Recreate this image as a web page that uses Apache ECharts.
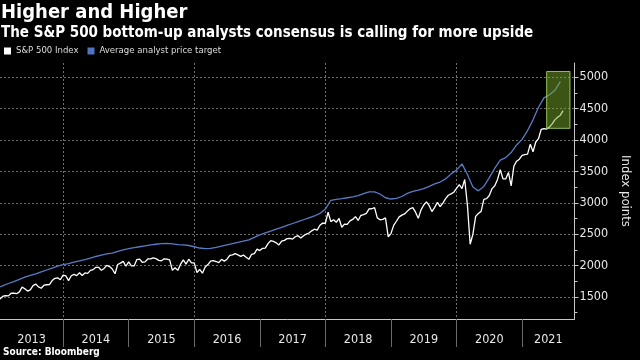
<!DOCTYPE html>
<html><head><meta charset="utf-8">
<script src="https://cdn.jsdelivr.net/npm/echarts@6/dist/echarts.min.js"></script>
<style>html,body{margin:0;padding:0;background:#000}#c{width:640px;height:360px}</style>
</head><body><div id="c"></div>
<script>
const F = 'DejaVu Sans Condensed';
const years = [2013, 2014, 2015, 2016, 2017, 2018, 2019, 2020, 2021];
const axisStart = 2013.038, axisEnd = 2021.799;
const boundaryYears = [2014, 2015, 2016, 2017, 2018, 2019, 2020, 2021];
const gridYears = [2014, 2016, 2018, 2020];
const yTicks = [1500, 2000, 2500, 3000, 3500, 4000, 4500, 5000];
const yMinorTicks = [1250, 1750, 2250, 2750, 3250, 3750, 4250, 4750];

// S&P 500 Index, twice a month (1st, 15th) from Jan 2013
const spx2013 = [1480,1472, 1513,1520, 1518,1560, 1562,1553, 1582,1658, 1631,1595, 1614,1682, 1706,1661, 1640,1688, 1695,1698, 1762,1798, 1806,1775];
const spx2014 = [1848,1838, 1760,1838, 1859,1841, 1885,1842, 1883,1877, 1924,1936, 1973,1973, 1925,1955, 2003,1985, 1946,1870, 2018,2039, 2067,1990];
const spx2015 = [2058,1995, 1995,2096, 2104,2053, 2059,2106, 2108,2122, 2111,2084, 2077,2108, 2104,2090, 1925,1965, 1924,2023, 2090,2023, 2102,2043];
const spx2016 = [2044,1890, 1940,1880, 1978,2016, 2072,2080, 2065,2046, 2100,2071, 2102,2161, 2170,2190, 2170,2147, 2168,2132, 2100,2180, 2191,2262];
const spx2017 = [2239,2275, 2279,2349, 2396,2385, 2363,2329, 2388,2402, 2430,2433, 2423,2459, 2476,2440, 2476,2500, 2519,2553, 2579,2565, 2642,2676];
const spx2018 = [2674,2850, 2700,2730, 2690,2750, 2610,2660, 2655,2711, 2735,2779, 2718,2801, 2813,2830, 2902,2905, 2924,2760, 2730,2735, 2760,2460];
const spx2019 = [2510,2640, 2706,2775, 2803,2822, 2867,2905, 2924,2850, 2752,2886, 2964,3014, 2953,2860, 2926,3007, 2940,2995, 3066,3120, 3141,3168];
const spx2020 = [3231,3289, 3225,3370, 2954,2340, 2500,2783, 2830,2863, 3055,3066, 3115,3226, 3271,3372, 3526,3380, 3380,3483, 3270,3585, 3662,3694];
const spx2021 = [3756,3768, 3774,3934, 3811,3968, 4020,4170, 4181,4173, 4204,4255, 4320,4360, 4395,4468];

// Average analyst price target, monthly from Jan 2013
const tgt2013 = [1645,1680,1715,1745,1780,1815,1845,1870,1900,1930,1960,1990];
const tgt2014 = [2015,2030,2055,2075,2095,2120,2145,2165,2185,2200,2225,2250];
const tgt2015 = [2270,2285,2300,2315,2330,2340,2350,2355,2345,2335,2330,2320];
const tgt2016 = [2300,2280,2270,2275,2290,2310,2330,2350,2370,2390,2410,2450];
const tgt2017 = [2490,2520,2550,2580,2610,2640,2670,2700,2730,2760,2790,2830];
const tgt2018 = [2900,3040,3055,3065,3080,3095,3115,3145,3175,3175,3140,3080];
const tgt2019 = [3060,3070,3100,3150,3180,3200,3225,3260,3300,3330,3380,3460];
const tgt2020 = [3520,3620,3450,3250,3190,3260,3400,3550,3680,3720,3800,3920];
const tgt2021 = [4010,4150,4320,4520,4670,4720,4790,4930];

const highlightX = [2021.375, 2021.73];
const highlightY = [4185, 5090];

const spx = [].concat(spx2013, spx2014, spx2015, spx2016, spx2017, spx2018, spx2019, spx2020, spx2021);
const tgt = [].concat(tgt2013, tgt2014, tgt2015, tgt2016, tgt2017, tgt2018, tgt2019, tgt2020, tgt2021);
const spxData = spx.map((v, i) => [2013 + i / 24, v]);
const tgtData = tgt.map((v, i) => [2013 + i / 12, v]);
const labelPos = years.map(y => (Math.max(y, axisStart) + Math.min(y + 1, axisEnd)) / 2);

const chart = echarts.init(document.getElementById('c'), null, {renderer: 'canvas'});
chart.setOption({
  backgroundColor: '#000',
  animation: false,
  title: [
    {text: 'Higher and Higher', left: 1, top: 3, padding: 0, textStyle: {fontFamily: F, fontWeight: 'bold', fontSize: 20, color: '#fff'}},
    {text: 'The S&P 500 bottom-up analysts consensus is calling for more upside', left: 1, top: 26, padding: 0, textStyle: {fontFamily: F, fontWeight: 'bold', fontSize: 15, color: '#fff'}},
    {text: 'Source: Bloomberg', left: 3, top: 347, padding: 0, textStyle: {fontFamily: F, fontWeight: 'bold', fontSize: 10, color: '#fff'}}
  ],
  legend: {
    left: 4, top: 46, padding: 0, itemWidth: 7, itemHeight: 7, itemGap: 9, icon: 'rect',
    textStyle: {fontFamily: F, fontSize: 9.5, color: '#ddd'},
    data: ['S&P 500 Index', 'Average analyst price target']
  },
  grid: {left: 0, right: 48, top: 63, bottom: 41},
  xAxis: [
    {type: 'value', min: axisStart, max: axisEnd,
     axisLine: {show: true, lineStyle: {color: '#c8c8c8', width: 1}},
     axisTick: {show: true, customValues: boundaryYears, length: 28, lineStyle: {color: '#6a6a6a'}},
     axisLabel: {customValues: labelPos, formatter: v => String(Math.floor(v)), color: '#e8e8e8', fontFamily: F, fontSize: 12.5, margin: 14},
     splitLine: {show: false}},
    {type: 'value', min: axisStart, max: axisEnd, position: 'bottom',
     axisLine: {show: false}, axisTick: {show: false, customValues: gridYears}, axisLabel: {show: false},
     splitLine: {show: true, lineStyle: {color: '#6e6e6e', type: [2, 2]}}}
  ],
  yAxis: [
    {type: 'value', position: 'right', min: 1150, max: 5225,
     axisLine: {show: true, lineStyle: {color: '#c8c8c8'}},
     axisTick: {show: true, customValues: yTicks, length: 4, lineStyle: {color: '#c8c8c8'}},
     axisLabel: {customValues: yTicks, formatter: v => String(v), color: '#e8e8e8', fontFamily: F, fontSize: 12.5, margin: 5},
     splitLine: {show: true, lineStyle: {color: '#6e6e6e', type: [2, 2]}},
     name: 'Index points', nameLocation: 'middle', nameRotate: -90, nameGap: 38,
     nameTextStyle: {color: '#e8e8e8', fontFamily: F, fontSize: 13}},
    {type: 'value', position: 'right', min: 1150, max: 5225,
     axisLine: {show: false},
     axisTick: {show: true, customValues: yMinorTicks, length: 3, lineStyle: {color: '#c8c8c8'}},
     axisLabel: {show: false}, splitLine: {show: false}}
  ],
  series: [
    {name: 'S&P 500 Index', type: 'line', data: spxData, symbol: 'none', showSymbol: false, z: 3,
     itemStyle: {color: '#ffffff'}, lineStyle: {color: '#ffffff', width: 1.3}},
    {name: 'Average analyst price target', type: 'line', data: tgtData, symbol: 'none', showSymbol: false, z: 2,
     itemStyle: {color: '#4f75c2'}, lineStyle: {color: '#5a7bc4', width: 1.3}},
    {name: 'highlight', type: 'line', data: [], z: 10, silent: true,
     markArea: {silent: true, z: 10,
       itemStyle: {color: 'rgba(120,170,40,0.5)', borderColor: 'rgba(160,210,90,0.9)', borderWidth: 1},
       data: [[{xAxis: highlightX[0], yAxis: highlightY[1]}, {xAxis: highlightX[1], yAxis: highlightY[0]}]]}}
  ]
});
</script>
</body></html>
